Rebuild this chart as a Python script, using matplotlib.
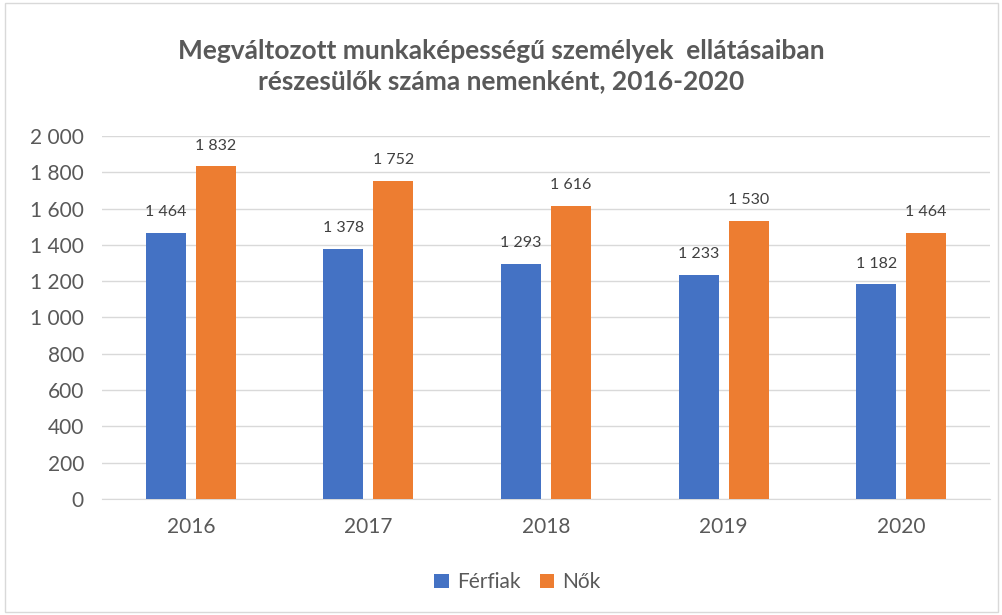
import numpy as np
import matplotlib
matplotlib.use("Agg")
import matplotlib.pyplot as plt
from matplotlib.patches import Rectangle

years = ["2016", "2017", "2018", "2019", "2020"]
ferfiak = [1464, 1378, 1293, 1233, 1182]
nok = [1832, 1752, 1616, 1530, 1464]

BLUE = "#4472C4"
ORANGE = "#ED7D31"
GRAY = "#595959"


def hu(v):
    return f"{int(v):,}".replace(",", " ")


plt.rcParams["font.family"] = ["Lato", "DejaVu Sans"]

fig = plt.figure(figsize=(10.03, 6.15), dpi=100)
fig.patches.append(Rectangle((0.005, 0.005), 0.99, 0.99, transform=fig.transFigure,
                             fill=False, edgecolor="#D9D9D9", linewidth=1))
ax = fig.add_axes([0.1017, 0.1886, 0.8853, 0.5903])

x = np.arange(len(years))
w = 0.225
gap = 0.056
off = (w + gap) / 2
b1 = ax.bar(x - off, ferfiak, w, color=BLUE, label="Férfiak", zorder=3)
b2 = ax.bar(x + off, nok, w, color=ORANGE, label="Nők", zorder=3)

for bars in (b1, b2):
    for r in bars:
        ax.annotate(hu(r.get_height()), (r.get_x() + r.get_width() / 2, r.get_height()),
                    xytext=(0, 15), textcoords="offset points", ha="center", va="center",
                    fontsize=11.5, color="#404040")

ax.set_xlim(-0.5, len(years) - 0.5)
ax.set_ylim(0, 2000)
ax.set_yticks(range(0, 2001, 200))
ax.set_yticklabels([hu(v) for v in range(0, 2001, 200)])
ax.set_xticks(x)
ax.set_xticklabels(years)
ax.tick_params(axis="both", length=0, labelsize=15, colors=GRAY)
ax.tick_params(axis="x", pad=13)
ax.tick_params(axis="y", pad=13)
ax.yaxis.grid(True, color="#D9D9D9", linewidth=1, zorder=0)
for s in ("top", "right", "left"):
    ax.spines[s].set_visible(False)
ax.spines["bottom"].set_color("#D9D9D9")

fig.text(0.5, 0.892, "Megváltozott munkaképességű személyek  ellátásaiban\nrészesülők száma nemenként, 2016-2020",
         ha="center", va="center", fontsize=19, fontweight="bold", color=GRAY, linespacing=1.3)

fig.legend(loc="center", bbox_to_anchor=(0.516, 0.053), ncol=2, frameon=False,
           fontsize=15, labelcolor=GRAY, handlelength=0.7, handleheight=0.7,
           handletextpad=0.4, columnspacing=0.9)

fig.savefig("out.png", dpi=100)
